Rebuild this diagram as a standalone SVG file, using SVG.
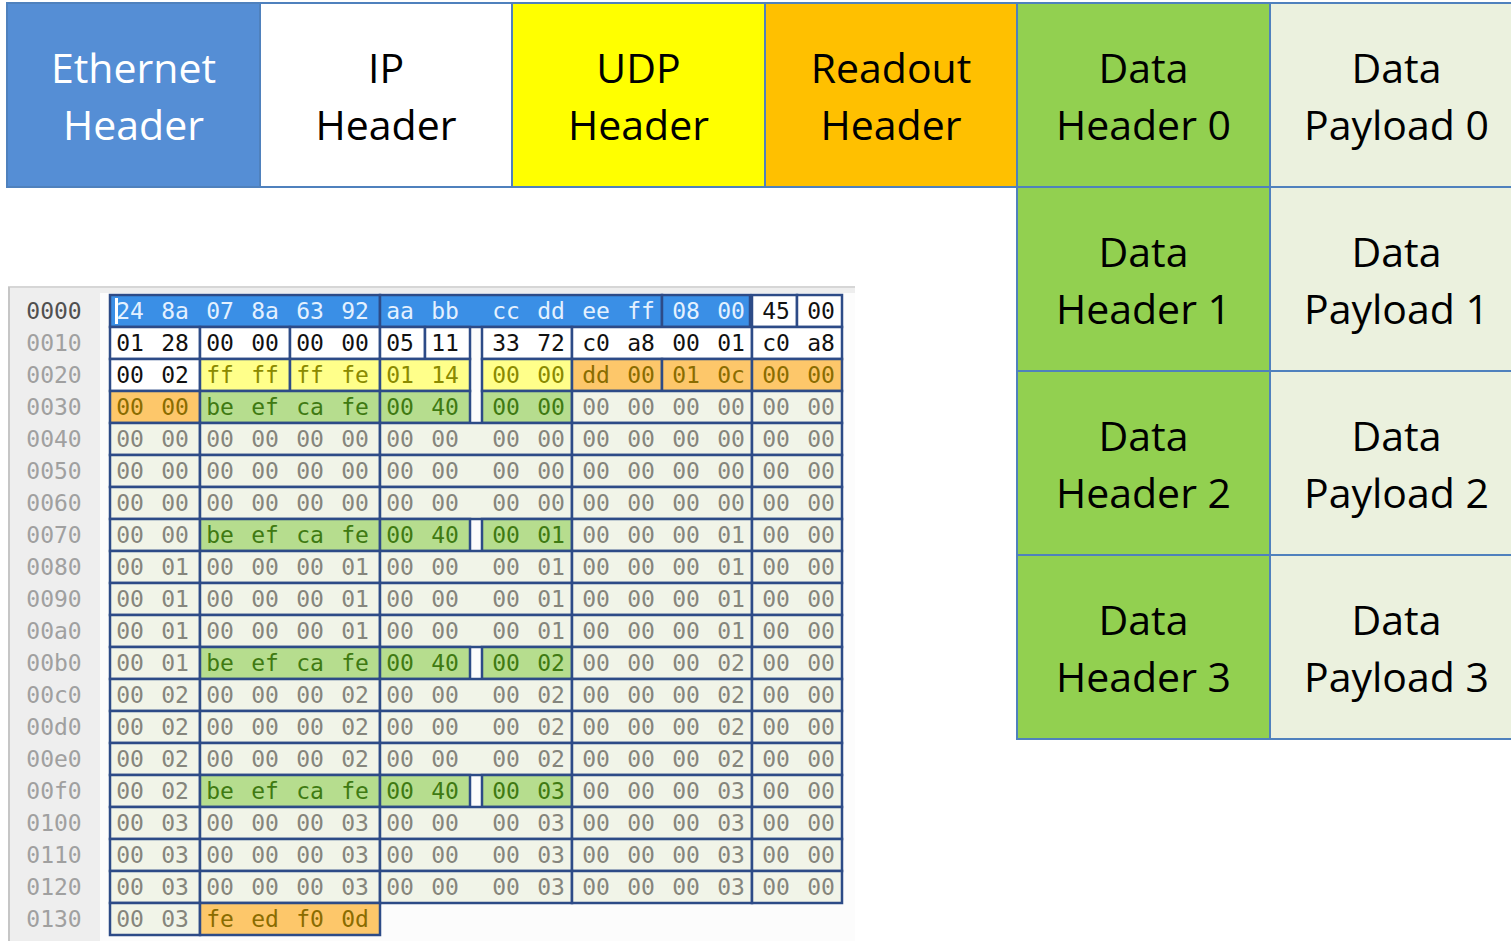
<svg xmlns="http://www.w3.org/2000/svg" width="1511" height="941" viewBox="0 0 1511 941">
  <style>
    .blk { stroke: #4f81bd; stroke-width: 2; }
    .lbl { font-family: "Open Sans", "Noto Sans", sans-serif; font-size: 41px; text-anchor: middle; fill: #000; }
    .lbl.w { fill: #ffffff; }
    .f-eth { fill: #558ed5; }
    .f-ip { fill: #ffffff; }
    .f-udp { fill: #ffff00; }
    .f-ro { fill: #ffc000; }
    .f-dh { fill: #92d050; }
    .f-pl { fill: #ebf1de; }

    .cell { stroke: #2d4b87; stroke-width: 2.5; }
    .c-eth { fill: #3a8fe6; }
    .c-ip { fill: #ffffff; }
    .c-udp { fill: #ffff8a; }
    .c-ro { fill: #fdc76a; }
    .c-dh { fill: #b6dd8e; }
    .c-pl { fill: #f1f4e8; }
    .hx { font-family: "DejaVu Sans Mono", "Liberation Mono", monospace; font-size: 23px; text-anchor: middle; }
    .t-eth { fill: #e4f1ff; }
    .t-ip { fill: #111111; }
    .t-udp { fill: #8a8a00; }
    .t-ro { fill: #8a6c00; }
    .t-dh { fill: #3f7a12; }
    .t-pl { fill: #85857c; }
    .off { fill: #a0a0a0; }
    .off0 { fill: #505050; }
  </style>

  <!-- Packet layout blocks -->
  <g id="ethernet-header">
    <rect class="blk f-eth" x="7" y="3" width="253" height="184"/>
    <text class="lbl w" x="133.5" y="83">Ethernet</text>
    <text class="lbl w" x="133.5" y="140">Header</text>
  </g>
  <g id="ip-header">
    <rect class="blk f-ip" x="260" y="3" width="252" height="184"/>
    <text class="lbl" x="386" y="83">IP</text>
    <text class="lbl" x="386" y="140">Header</text>
  </g>
  <g id="udp-header">
    <rect class="blk f-udp" x="512" y="3" width="253" height="184"/>
    <text class="lbl" x="638.5" y="83">UDP</text>
    <text class="lbl" x="638.5" y="140">Header</text>
  </g>
  <g id="readout-header">
    <rect class="blk f-ro" x="765" y="3" width="252" height="184"/>
    <text class="lbl" x="891" y="83">Readout</text>
    <text class="lbl" x="891" y="140">Header</text>
  </g>
  <g id="data-header-0">
    <rect class="blk f-dh" x="1017" y="3" width="253" height="184"/>
    <text class="lbl" x="1143.5" y="83">Data</text>
    <text class="lbl" x="1143.5" y="140">Header 0</text>
  </g>
  <g id="data-payload-0">
    <rect class="blk f-pl" x="1270" y="3" width="260" height="184"/>
    <text class="lbl" x="1396.5" y="83">Data</text>
    <text class="lbl" x="1396.5" y="140">Payload 0</text>
  </g>
  <g id="data-header-1">
    <rect class="blk f-dh" x="1017" y="187" width="253" height="184"/>
    <text class="lbl" x="1143.5" y="267">Data</text>
    <text class="lbl" x="1143.5" y="324">Header 1</text>
  </g>
  <g id="data-payload-1">
    <rect class="blk f-pl" x="1270" y="187" width="260" height="184"/>
    <text class="lbl" x="1396.5" y="267">Data</text>
    <text class="lbl" x="1396.5" y="324">Payload 1</text>
  </g>
  <g id="data-header-2">
    <rect class="blk f-dh" x="1017" y="371" width="253" height="184"/>
    <text class="lbl" x="1143.5" y="451">Data</text>
    <text class="lbl" x="1143.5" y="508">Header 2</text>
  </g>
  <g id="data-payload-2">
    <rect class="blk f-pl" x="1270" y="371" width="260" height="184"/>
    <text class="lbl" x="1396.5" y="451">Data</text>
    <text class="lbl" x="1396.5" y="508">Payload 2</text>
  </g>
  <g id="data-header-3">
    <rect class="blk f-dh" x="1017" y="555" width="253" height="184"/>
    <text class="lbl" x="1143.5" y="635">Data</text>
    <text class="lbl" x="1143.5" y="692">Header 3</text>
  </g>
  <g id="data-payload-3">
    <rect class="blk f-pl" x="1270" y="555" width="260" height="184"/>
    <text class="lbl" x="1396.5" y="635">Data</text>
    <text class="lbl" x="1396.5" y="692">Payload 3</text>
  </g>

  <!-- Hex dump panel -->
  <g id="hex-panel">
    <rect x="8" y="287" width="847" height="654" fill="#eeeeee"/>
    <line x1="8" y1="287" x2="855" y2="287" stroke="#d6d6d6" stroke-width="2"/>
    <line x1="9" y1="287" x2="9" y2="941" stroke="#c6c6c6" stroke-width="2"/>
    <rect x="100" y="293" width="755" height="648" fill="#fcfcfc"/>
  </g>

  <!-- Offsets -->
  <g id="hex-offsets" class="hx">
    <text class="off0" x="54" y="319">0000</text>
    <text class="off" x="54" y="351">0010</text>
    <text class="off" x="54" y="383">0020</text>
    <text class="off" x="54" y="415">0030</text>
    <text class="off" x="54" y="447">0040</text>
    <text class="off" x="54" y="479">0050</text>
    <text class="off" x="54" y="511">0060</text>
    <text class="off" x="54" y="543">0070</text>
    <text class="off" x="54" y="575">0080</text>
    <text class="off" x="54" y="607">0090</text>
    <text class="off" x="54" y="639">00a0</text>
    <text class="off" x="54" y="671">00b0</text>
    <text class="off" x="54" y="703">00c0</text>
    <text class="off" x="54" y="735">00d0</text>
    <text class="off" x="54" y="767">00e0</text>
    <text class="off" x="54" y="799">00f0</text>
    <text class="off" x="54" y="831">0100</text>
    <text class="off" x="54" y="863">0110</text>
    <text class="off" x="54" y="895">0120</text>
    <text class="off" x="54" y="927">0130</text>
  </g>

  <!-- Row 0000: Ethernet + start of IP -->
  <g id="row-0000">
    <rect class="cell c-eth" x="110" y="295" width="270" height="32"/>
    <rect class="cell c-eth" x="380" y="295" width="282" height="32"/>
    <rect class="cell c-eth" x="662" y="295" width="88" height="32"/>
    <rect class="cell c-ip" x="752" y="295" width="45" height="32"/>
    <rect class="cell c-ip" x="797" y="295" width="45" height="32"/>
    <rect x="115" y="298" width="3" height="26" fill="#ffffff"/>
    <text class="hx t-eth" y="319"><tspan x="130">24</tspan><tspan x="175">8a</tspan><tspan x="220">07</tspan><tspan x="265">8a</tspan><tspan x="310">63</tspan><tspan x="355">92</tspan><tspan x="400">aa</tspan><tspan x="445">bb</tspan><tspan x="506">cc</tspan><tspan x="551">dd</tspan><tspan x="596">ee</tspan><tspan x="641">ff</tspan><tspan x="686">08</tspan><tspan x="731">00</tspan></text>
    <text class="hx t-ip" y="319"><tspan x="776">45</tspan><tspan x="821">00</tspan></text>
  </g>

  <!-- Row 0010: IP header -->
  <g id="row-0010">
    <rect class="cell c-ip" x="110" y="327" width="90" height="32"/>
    <rect class="cell c-ip" x="200" y="327" width="90" height="32"/>
    <rect class="cell c-ip" x="290" y="327" width="90" height="32"/>
    <rect class="cell c-ip" x="380" y="327" width="45" height="32"/>
    <rect class="cell c-ip" x="425" y="327" width="45" height="32"/>
    <rect class="cell c-ip" x="482" y="327" width="90" height="32"/>
    <rect class="cell c-ip" x="572" y="327" width="180" height="32"/>
    <rect class="cell c-ip" x="752" y="327" width="90" height="32"/>
    <text class="hx t-ip" y="351"><tspan x="130">01</tspan><tspan x="175">28</tspan><tspan x="220">00</tspan><tspan x="265">00</tspan><tspan x="310">00</tspan><tspan x="355">00</tspan><tspan x="400">05</tspan><tspan x="445">11</tspan><tspan x="506">33</tspan><tspan x="551">72</tspan><tspan x="596">c0</tspan><tspan x="641">a8</tspan><tspan x="686">00</tspan><tspan x="731">01</tspan><tspan x="776">c0</tspan><tspan x="821">a8</tspan></text>
  </g>

  <!-- Row 0020: end of IP, UDP, start of readout -->
  <g id="row-0020">
    <rect class="cell c-ip" x="110" y="359" width="90" height="32"/>
    <rect class="cell c-udp" x="200" y="359" width="90" height="32"/>
    <rect class="cell c-udp" x="290" y="359" width="90" height="32"/>
    <rect class="cell c-udp" x="380" y="359" width="90" height="32"/>
    <rect class="cell c-udp" x="482" y="359" width="90" height="32"/>
    <rect class="cell c-ro" x="572" y="359" width="90" height="32"/>
    <rect class="cell c-ro" x="662" y="359" width="90" height="32"/>
    <rect class="cell c-ro" x="752" y="359" width="90" height="32"/>
    <text class="hx t-ip" y="383"><tspan x="130">00</tspan><tspan x="175">02</tspan></text>
    <text class="hx t-udp" y="383"><tspan x="220">ff</tspan><tspan x="265">ff</tspan><tspan x="310">ff</tspan><tspan x="355">fe</tspan><tspan x="400">01</tspan><tspan x="445">14</tspan><tspan x="506">00</tspan><tspan x="551">00</tspan></text>
    <text class="hx t-ro" y="383"><tspan x="596">dd</tspan><tspan x="641">00</tspan><tspan x="686">01</tspan><tspan x="731">0c</tspan><tspan x="776">00</tspan><tspan x="821">00</tspan></text>
  </g>

  <!-- Row 0030: end of readout, data header 0, payload 0 -->
  <g id="row-0030">
    <rect class="cell c-ro" x="110" y="391" width="90" height="32"/>
    <rect class="cell c-dh" x="200" y="391" width="180" height="32"/>
    <rect class="cell c-dh" x="380" y="391" width="90" height="32"/>
    <rect class="cell c-dh" x="482" y="391" width="90" height="32"/>
    <rect class="cell c-pl" x="572" y="391" width="180" height="32"/>
    <rect class="cell c-pl" x="752" y="391" width="90" height="32"/>
    <text class="hx t-ro" y="415"><tspan x="130">00</tspan><tspan x="175">00</tspan></text>
    <text class="hx t-dh" y="415"><tspan x="220">be</tspan><tspan x="265">ef</tspan><tspan x="310">ca</tspan><tspan x="355">fe</tspan><tspan x="400">00</tspan><tspan x="445">40</tspan><tspan x="506">00</tspan><tspan x="551">00</tspan></text>
    <text class="hx t-pl" y="415"><tspan x="596">00</tspan><tspan x="641">00</tspan><tspan x="686">00</tspan><tspan x="731">00</tspan><tspan x="776">00</tspan><tspan x="821">00</tspan></text>
  </g>

  <!-- Rows 0040-0060: payload 0 -->
  <g id="row-0040">
    <rect class="cell c-pl" x="110" y="423" width="90" height="32"/>
    <rect class="cell c-pl" x="200" y="423" width="180" height="32"/>
    <rect class="cell c-pl" x="380" y="423" width="192" height="32"/>
    <rect class="cell c-pl" x="572" y="423" width="180" height="32"/>
    <rect class="cell c-pl" x="752" y="423" width="90" height="32"/>
    <text class="hx t-pl" y="447"><tspan x="130">00</tspan><tspan x="175">00</tspan><tspan x="220">00</tspan><tspan x="265">00</tspan><tspan x="310">00</tspan><tspan x="355">00</tspan><tspan x="400">00</tspan><tspan x="445">00</tspan><tspan x="506">00</tspan><tspan x="551">00</tspan><tspan x="596">00</tspan><tspan x="641">00</tspan><tspan x="686">00</tspan><tspan x="731">00</tspan><tspan x="776">00</tspan><tspan x="821">00</tspan></text>
  </g>
  <g id="row-0050">
    <rect class="cell c-pl" x="110" y="455" width="90" height="32"/>
    <rect class="cell c-pl" x="200" y="455" width="180" height="32"/>
    <rect class="cell c-pl" x="380" y="455" width="192" height="32"/>
    <rect class="cell c-pl" x="572" y="455" width="180" height="32"/>
    <rect class="cell c-pl" x="752" y="455" width="90" height="32"/>
    <text class="hx t-pl" y="479"><tspan x="130">00</tspan><tspan x="175">00</tspan><tspan x="220">00</tspan><tspan x="265">00</tspan><tspan x="310">00</tspan><tspan x="355">00</tspan><tspan x="400">00</tspan><tspan x="445">00</tspan><tspan x="506">00</tspan><tspan x="551">00</tspan><tspan x="596">00</tspan><tspan x="641">00</tspan><tspan x="686">00</tspan><tspan x="731">00</tspan><tspan x="776">00</tspan><tspan x="821">00</tspan></text>
  </g>
  <g id="row-0060">
    <rect class="cell c-pl" x="110" y="487" width="90" height="32"/>
    <rect class="cell c-pl" x="200" y="487" width="180" height="32"/>
    <rect class="cell c-pl" x="380" y="487" width="192" height="32"/>
    <rect class="cell c-pl" x="572" y="487" width="180" height="32"/>
    <rect class="cell c-pl" x="752" y="487" width="90" height="32"/>
    <text class="hx t-pl" y="511"><tspan x="130">00</tspan><tspan x="175">00</tspan><tspan x="220">00</tspan><tspan x="265">00</tspan><tspan x="310">00</tspan><tspan x="355">00</tspan><tspan x="400">00</tspan><tspan x="445">00</tspan><tspan x="506">00</tspan><tspan x="551">00</tspan><tspan x="596">00</tspan><tspan x="641">00</tspan><tspan x="686">00</tspan><tspan x="731">00</tspan><tspan x="776">00</tspan><tspan x="821">00</tspan></text>
  </g>

  <!-- Row 0070: data header 1 -->
  <g id="row-0070">
    <rect class="cell c-pl" x="110" y="519" width="90" height="32"/>
    <rect class="cell c-dh" x="200" y="519" width="180" height="32"/>
    <rect class="cell c-dh" x="380" y="519" width="90" height="32"/>
    <rect class="cell c-dh" x="482" y="519" width="90" height="32"/>
    <rect class="cell c-pl" x="572" y="519" width="180" height="32"/>
    <rect class="cell c-pl" x="752" y="519" width="90" height="32"/>
    <text class="hx t-pl" y="543"><tspan x="130">00</tspan><tspan x="175">00</tspan></text>
    <text class="hx t-dh" y="543"><tspan x="220">be</tspan><tspan x="265">ef</tspan><tspan x="310">ca</tspan><tspan x="355">fe</tspan><tspan x="400">00</tspan><tspan x="445">40</tspan><tspan x="506">00</tspan><tspan x="551">01</tspan></text>
    <text class="hx t-pl" y="543"><tspan x="596">00</tspan><tspan x="641">00</tspan><tspan x="686">00</tspan><tspan x="731">01</tspan><tspan x="776">00</tspan><tspan x="821">00</tspan></text>
  </g>

  <!-- Rows 0080-00a0: payload 1 -->
  <g id="row-0080">
    <rect class="cell c-pl" x="110" y="551" width="90" height="32"/>
    <rect class="cell c-pl" x="200" y="551" width="180" height="32"/>
    <rect class="cell c-pl" x="380" y="551" width="192" height="32"/>
    <rect class="cell c-pl" x="572" y="551" width="180" height="32"/>
    <rect class="cell c-pl" x="752" y="551" width="90" height="32"/>
    <text class="hx t-pl" y="575"><tspan x="130">00</tspan><tspan x="175">01</tspan><tspan x="220">00</tspan><tspan x="265">00</tspan><tspan x="310">00</tspan><tspan x="355">01</tspan><tspan x="400">00</tspan><tspan x="445">00</tspan><tspan x="506">00</tspan><tspan x="551">01</tspan><tspan x="596">00</tspan><tspan x="641">00</tspan><tspan x="686">00</tspan><tspan x="731">01</tspan><tspan x="776">00</tspan><tspan x="821">00</tspan></text>
  </g>
  <g id="row-0090">
    <rect class="cell c-pl" x="110" y="583" width="90" height="32"/>
    <rect class="cell c-pl" x="200" y="583" width="180" height="32"/>
    <rect class="cell c-pl" x="380" y="583" width="192" height="32"/>
    <rect class="cell c-pl" x="572" y="583" width="180" height="32"/>
    <rect class="cell c-pl" x="752" y="583" width="90" height="32"/>
    <text class="hx t-pl" y="607"><tspan x="130">00</tspan><tspan x="175">01</tspan><tspan x="220">00</tspan><tspan x="265">00</tspan><tspan x="310">00</tspan><tspan x="355">01</tspan><tspan x="400">00</tspan><tspan x="445">00</tspan><tspan x="506">00</tspan><tspan x="551">01</tspan><tspan x="596">00</tspan><tspan x="641">00</tspan><tspan x="686">00</tspan><tspan x="731">01</tspan><tspan x="776">00</tspan><tspan x="821">00</tspan></text>
  </g>
  <g id="row-00a0">
    <rect class="cell c-pl" x="110" y="615" width="90" height="32"/>
    <rect class="cell c-pl" x="200" y="615" width="180" height="32"/>
    <rect class="cell c-pl" x="380" y="615" width="192" height="32"/>
    <rect class="cell c-pl" x="572" y="615" width="180" height="32"/>
    <rect class="cell c-pl" x="752" y="615" width="90" height="32"/>
    <text class="hx t-pl" y="639"><tspan x="130">00</tspan><tspan x="175">01</tspan><tspan x="220">00</tspan><tspan x="265">00</tspan><tspan x="310">00</tspan><tspan x="355">01</tspan><tspan x="400">00</tspan><tspan x="445">00</tspan><tspan x="506">00</tspan><tspan x="551">01</tspan><tspan x="596">00</tspan><tspan x="641">00</tspan><tspan x="686">00</tspan><tspan x="731">01</tspan><tspan x="776">00</tspan><tspan x="821">00</tspan></text>
  </g>

  <!-- Row 00b0: data header 2 -->
  <g id="row-00b0">
    <rect class="cell c-pl" x="110" y="647" width="90" height="32"/>
    <rect class="cell c-dh" x="200" y="647" width="180" height="32"/>
    <rect class="cell c-dh" x="380" y="647" width="90" height="32"/>
    <rect class="cell c-dh" x="482" y="647" width="90" height="32"/>
    <rect class="cell c-pl" x="572" y="647" width="180" height="32"/>
    <rect class="cell c-pl" x="752" y="647" width="90" height="32"/>
    <text class="hx t-pl" y="671"><tspan x="130">00</tspan><tspan x="175">01</tspan></text>
    <text class="hx t-dh" y="671"><tspan x="220">be</tspan><tspan x="265">ef</tspan><tspan x="310">ca</tspan><tspan x="355">fe</tspan><tspan x="400">00</tspan><tspan x="445">40</tspan><tspan x="506">00</tspan><tspan x="551">02</tspan></text>
    <text class="hx t-pl" y="671"><tspan x="596">00</tspan><tspan x="641">00</tspan><tspan x="686">00</tspan><tspan x="731">02</tspan><tspan x="776">00</tspan><tspan x="821">00</tspan></text>
  </g>

  <!-- Rows 00c0-00e0: payload 2 -->
  <g id="row-00c0">
    <rect class="cell c-pl" x="110" y="679" width="90" height="32"/>
    <rect class="cell c-pl" x="200" y="679" width="180" height="32"/>
    <rect class="cell c-pl" x="380" y="679" width="192" height="32"/>
    <rect class="cell c-pl" x="572" y="679" width="180" height="32"/>
    <rect class="cell c-pl" x="752" y="679" width="90" height="32"/>
    <text class="hx t-pl" y="703"><tspan x="130">00</tspan><tspan x="175">02</tspan><tspan x="220">00</tspan><tspan x="265">00</tspan><tspan x="310">00</tspan><tspan x="355">02</tspan><tspan x="400">00</tspan><tspan x="445">00</tspan><tspan x="506">00</tspan><tspan x="551">02</tspan><tspan x="596">00</tspan><tspan x="641">00</tspan><tspan x="686">00</tspan><tspan x="731">02</tspan><tspan x="776">00</tspan><tspan x="821">00</tspan></text>
  </g>
  <g id="row-00d0">
    <rect class="cell c-pl" x="110" y="711" width="90" height="32"/>
    <rect class="cell c-pl" x="200" y="711" width="180" height="32"/>
    <rect class="cell c-pl" x="380" y="711" width="192" height="32"/>
    <rect class="cell c-pl" x="572" y="711" width="180" height="32"/>
    <rect class="cell c-pl" x="752" y="711" width="90" height="32"/>
    <text class="hx t-pl" y="735"><tspan x="130">00</tspan><tspan x="175">02</tspan><tspan x="220">00</tspan><tspan x="265">00</tspan><tspan x="310">00</tspan><tspan x="355">02</tspan><tspan x="400">00</tspan><tspan x="445">00</tspan><tspan x="506">00</tspan><tspan x="551">02</tspan><tspan x="596">00</tspan><tspan x="641">00</tspan><tspan x="686">00</tspan><tspan x="731">02</tspan><tspan x="776">00</tspan><tspan x="821">00</tspan></text>
  </g>
  <g id="row-00e0">
    <rect class="cell c-pl" x="110" y="743" width="90" height="32"/>
    <rect class="cell c-pl" x="200" y="743" width="180" height="32"/>
    <rect class="cell c-pl" x="380" y="743" width="192" height="32"/>
    <rect class="cell c-pl" x="572" y="743" width="180" height="32"/>
    <rect class="cell c-pl" x="752" y="743" width="90" height="32"/>
    <text class="hx t-pl" y="767"><tspan x="130">00</tspan><tspan x="175">02</tspan><tspan x="220">00</tspan><tspan x="265">00</tspan><tspan x="310">00</tspan><tspan x="355">02</tspan><tspan x="400">00</tspan><tspan x="445">00</tspan><tspan x="506">00</tspan><tspan x="551">02</tspan><tspan x="596">00</tspan><tspan x="641">00</tspan><tspan x="686">00</tspan><tspan x="731">02</tspan><tspan x="776">00</tspan><tspan x="821">00</tspan></text>
  </g>

  <!-- Row 00f0: data header 3 -->
  <g id="row-00f0">
    <rect class="cell c-pl" x="110" y="775" width="90" height="32"/>
    <rect class="cell c-dh" x="200" y="775" width="180" height="32"/>
    <rect class="cell c-dh" x="380" y="775" width="90" height="32"/>
    <rect class="cell c-dh" x="482" y="775" width="90" height="32"/>
    <rect class="cell c-pl" x="572" y="775" width="180" height="32"/>
    <rect class="cell c-pl" x="752" y="775" width="90" height="32"/>
    <text class="hx t-pl" y="799"><tspan x="130">00</tspan><tspan x="175">02</tspan></text>
    <text class="hx t-dh" y="799"><tspan x="220">be</tspan><tspan x="265">ef</tspan><tspan x="310">ca</tspan><tspan x="355">fe</tspan><tspan x="400">00</tspan><tspan x="445">40</tspan><tspan x="506">00</tspan><tspan x="551">03</tspan></text>
    <text class="hx t-pl" y="799"><tspan x="596">00</tspan><tspan x="641">00</tspan><tspan x="686">00</tspan><tspan x="731">03</tspan><tspan x="776">00</tspan><tspan x="821">00</tspan></text>
  </g>

  <!-- Rows 0100-0120: payload 3 -->
  <g id="row-0100">
    <rect class="cell c-pl" x="110" y="807" width="90" height="32"/>
    <rect class="cell c-pl" x="200" y="807" width="180" height="32"/>
    <rect class="cell c-pl" x="380" y="807" width="192" height="32"/>
    <rect class="cell c-pl" x="572" y="807" width="180" height="32"/>
    <rect class="cell c-pl" x="752" y="807" width="90" height="32"/>
    <text class="hx t-pl" y="831"><tspan x="130">00</tspan><tspan x="175">03</tspan><tspan x="220">00</tspan><tspan x="265">00</tspan><tspan x="310">00</tspan><tspan x="355">03</tspan><tspan x="400">00</tspan><tspan x="445">00</tspan><tspan x="506">00</tspan><tspan x="551">03</tspan><tspan x="596">00</tspan><tspan x="641">00</tspan><tspan x="686">00</tspan><tspan x="731">03</tspan><tspan x="776">00</tspan><tspan x="821">00</tspan></text>
  </g>
  <g id="row-0110">
    <rect class="cell c-pl" x="110" y="839" width="90" height="32"/>
    <rect class="cell c-pl" x="200" y="839" width="180" height="32"/>
    <rect class="cell c-pl" x="380" y="839" width="192" height="32"/>
    <rect class="cell c-pl" x="572" y="839" width="180" height="32"/>
    <rect class="cell c-pl" x="752" y="839" width="90" height="32"/>
    <text class="hx t-pl" y="863"><tspan x="130">00</tspan><tspan x="175">03</tspan><tspan x="220">00</tspan><tspan x="265">00</tspan><tspan x="310">00</tspan><tspan x="355">03</tspan><tspan x="400">00</tspan><tspan x="445">00</tspan><tspan x="506">00</tspan><tspan x="551">03</tspan><tspan x="596">00</tspan><tspan x="641">00</tspan><tspan x="686">00</tspan><tspan x="731">03</tspan><tspan x="776">00</tspan><tspan x="821">00</tspan></text>
  </g>
  <g id="row-0120">
    <rect class="cell c-pl" x="110" y="871" width="90" height="32"/>
    <rect class="cell c-pl" x="200" y="871" width="180" height="32"/>
    <rect class="cell c-pl" x="380" y="871" width="192" height="32"/>
    <rect class="cell c-pl" x="572" y="871" width="180" height="32"/>
    <rect class="cell c-pl" x="752" y="871" width="90" height="32"/>
    <text class="hx t-pl" y="895"><tspan x="130">00</tspan><tspan x="175">03</tspan><tspan x="220">00</tspan><tspan x="265">00</tspan><tspan x="310">00</tspan><tspan x="355">03</tspan><tspan x="400">00</tspan><tspan x="445">00</tspan><tspan x="506">00</tspan><tspan x="551">03</tspan><tspan x="596">00</tspan><tspan x="641">00</tspan><tspan x="686">00</tspan><tspan x="731">03</tspan><tspan x="776">00</tspan><tspan x="821">00</tspan></text>
  </g>

  <!-- Row 0130: end of payload 3 and trailer -->
  <g id="row-0130">
    <rect class="cell c-pl" x="110" y="903" width="90" height="32"/>
    <rect class="cell c-ro" x="200" y="903" width="180" height="32"/>
    <text class="hx t-pl" y="927"><tspan x="130">00</tspan><tspan x="175">03</tspan></text>
    <text class="hx t-ro" y="927"><tspan x="220">fe</tspan><tspan x="265">ed</tspan><tspan x="310">f0</tspan><tspan x="355">0d</tspan></text>
  </g>
</svg>
